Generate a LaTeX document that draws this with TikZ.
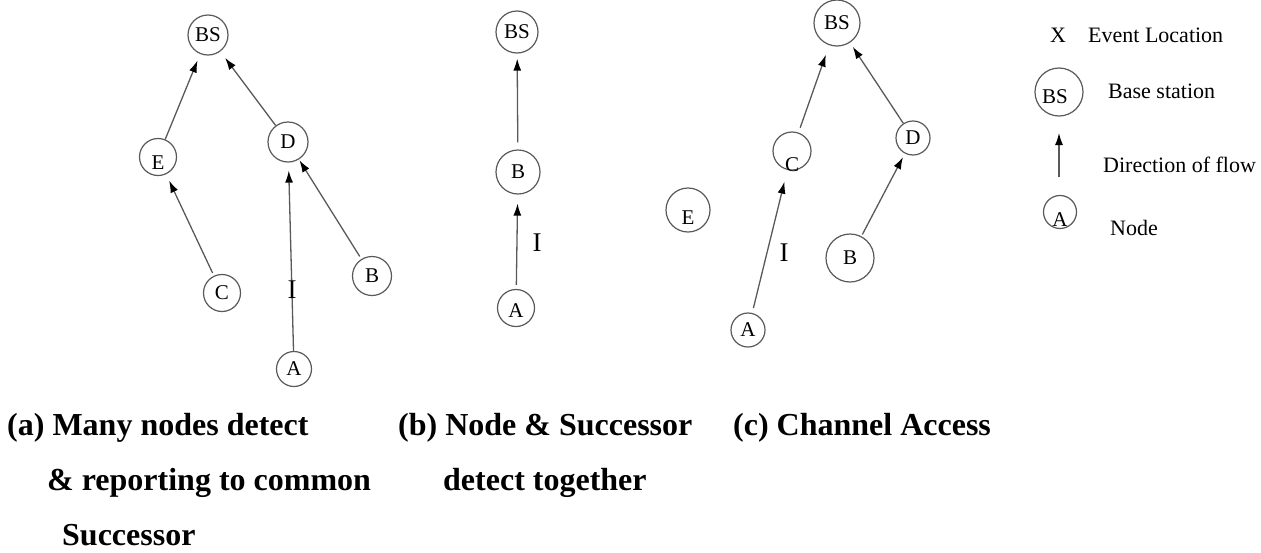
\documentclass[tikz,border=0pt]{standalone}
\usepackage{fontspec}
\setmainfont{Liberation Serif}
\usetikzlibrary{arrows.meta}
\begin{document}
\begin{tikzpicture}[x=1pt,y=-1pt,
  nd/.style={circle, draw=black!65, line width=1.2pt, inner sep=0pt, font=\fontsize{21}{21}\selectfont},
  lbl/.style={inner sep=0pt, font=\fontsize{21}{21}\selectfont},
  flow/.style={draw=black!65, line width=1.3pt, -{Latex[length=12pt,width=8pt,black]}},
  ilbl/.style={inner sep=0pt, font=\fontsize{27}{27}\selectfont},
  leg/.style={anchor=base west, inner sep=0pt, font=\fontsize{22}{22}\selectfont},
  captxt/.style={anchor=base west, inner sep=0pt, font=\fontsize{32}{32}\selectfont\bfseries}]
\useasboundingbox (0,0) rectangle (1261,552);

% ---------- (a) ----------
\node[nd, minimum size=40pt] (aBS) at (208,35) {BS};
\node[nd, minimum size=37pt, label={[lbl,yshift=-6pt]center:E}] (aE) at (158,157) {};
\node[nd, minimum size=40pt] (aD) at (288,142) {D};
\node[nd, minimum size=37pt] (aC) at (222,293) {C};
\node[nd, minimum size=39pt] (aB) at (372,276) {B};
\node[nd, minimum size=35pt] (aA) at (294,369) {A};
\draw[flow, shorten >=7pt] (aE) -- (aBS);
\draw[flow, shorten >=8pt] (aD) -- (aBS);
\draw[flow, shorten <=3pt, shorten >=7pt] (aC) -- (aE);
\draw[flow, shorten >=8pt] (aA) -- (aD);
\draw[flow, shorten <=3pt, shorten >=1pt] (aB) -- (aD);
\node[ilbl] (aI) at (292,290) {I};

% ---------- (b) ----------
\node[nd, minimum size=42pt] (bBS) at (517,32) {BS};
\node[nd, minimum size=44pt] (bB) at (518,172) {B};
\node[nd, minimum size=37pt, label={[lbl,yshift=-3pt]center:A}] (bA) at (516,308) {};
\draw[flow, shorten <=7pt, shorten >=5pt] (bB) -- (bBS);
\draw[flow, shorten <=4pt, shorten >=9pt] (bA) -- (bB);
\node[ilbl] (bI) at (537,243) {I};

% ---------- (c) ----------
\node[nd, minimum size=46pt] (cBS) at (837,23) {BS};
\node[nd, minimum size=38pt, label={[lbl,yshift=-14pt]center:C}] (cC) at (792,151) {};
\node[nd, minimum size=34pt] (cD) at (913,138) {D};
\node[nd, minimum size=44pt, label={[lbl,yshift=-8pt]center:E}] (cE) at (688,210) {};
\node[nd, minimum size=48pt] (cB) at (850,258) {B};
\node[nd, minimum size=34pt] (cA) at (748,330) {A};
\draw[flow, shorten <=5pt, shorten >=10pt] (cC) -- (cBS);
\draw[flow, shorten >=5pt] (cD) -- (cBS);
\draw[flow, shorten <=5pt, shorten >=12pt] (cA) -- (cC);
\draw[flow, shorten <=2pt, shorten >=4pt] (cB) -- (cD);
\node[ilbl] (cI) at (784,253) {I};

% ---------- legend ----------
\node[leg] (lX) at (1050,42) {X};
\node[leg] (lEv) at (1088,42) {Event Location};
\node[nd, minimum size=48pt, label={[lbl,xshift=-4pt,yshift=-5pt]center:BS}] (lBS) at (1059,92) {};
\node[leg] (lBase) at (1108,98) {Base station};
\coordinate (lf1) at (1059,177);
\coordinate (lf2) at (1059,133);
\draw[flow] (lf1) -- (lf2);
\node[leg] (lDir) at (1103,172) {Direction of flow};
\node[nd, minimum size=33pt, label={[lbl,yshift=-8pt]center:A}] (lA) at (1060,212) {};
\node[leg] (lNode) at (1110,235) {Node};

% ---------- captions ----------
\node[captxt] (capa1) at (7,435) {(a) Many nodes detect};
\node[captxt] (capa2) at (47,490) {\& reporting to common};
\node[captxt] (capa3) at (62,545) {Successor};
\node[captxt] (capb1) at (398,435) {(b) Node \& Successor};
\node[captxt] (capb2) at (443,490) {detect together};
\node[captxt] (capc1) at (733,435) {(c) Channel Access};
\end{tikzpicture}
\end{document}
